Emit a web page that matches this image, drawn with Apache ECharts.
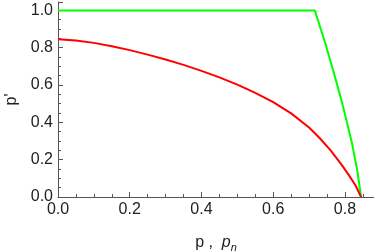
<!DOCTYPE html>
<html><head><meta charset="utf-8">
<script src="https://cdn.jsdelivr.net/npm/echarts@6/dist/echarts.min.js"></script>
<style>html,body{margin:0;padding:0;background:#fff}#c{width:374px;height:252px}</style>
</head><body><div id="c"></div>
<script>
var xTicks = [0.0, 0.2, 0.4, 0.6, 0.8];
var yTicks = [0.0, 0.2, 0.4, 0.6, 0.8, 1.0];
var redP = [0, 0.05, 0.1, 0.15, 0.2, 0.25, 0.3, 0.35, 0.4, 0.45, 0.5, 0.55, 0.6, 0.65, 0.7, 0.73, 0.76, 0.79, 0.81, 0.83, 0.845];
var redV = [0.846, 0.839, 0.826, 0.808, 0.787, 0.763, 0.737, 0.708, 0.676, 0.641, 0.602, 0.558, 0.508, 0.448, 0.372, 0.315, 0.25, 0.175, 0.12, 0.06, 0];
var greenP = [0, 0.716, 0.73, 0.745, 0.76, 0.775, 0.79, 0.805, 0.82, 0.835, 0.845];
var greenV = [1, 1, 0.915, 0.825, 0.725, 0.625, 0.52, 0.405, 0.285, 0.135, 0];

function pairs(a, b) { return a.map(function (v, i) { return [v, b[i]]; }); }

var chart = echarts.init(document.getElementById('c'));
var axisCol = '#555';
var lbl = { color: '#222', fontSize: 16, fontFamily: 'Liberation Sans' };
chart.setOption({
  animation: false,
  grid: { left: 58, right: 0, top: 2, bottom: 55, containLabel: false, outerBoundsMode: 'none' },
  xAxis: {
    type: 'value', min: 0, max: 0.881, interval: 0.2,
    axisLine: { show: true, lineStyle: { color: axisCol, width: 1 } },
    axisTick: { show: true, inside: true, length: 5, lineStyle: { color: axisCol } },
    minorTick: { show: true, splitNumber: 4, length: 3, lineStyle: { color: axisCol } },
    splitLine: { show: false },
    axisLabel: Object.assign({ margin: 5, showMaxLabel: false,
      formatter: function (v) { return v.toFixed(1); } }, lbl),
    name: '{a|p ,  }{b|p}{c|n}', nameLocation: 'middle', nameGap: 36,
    nameTextStyle: { rich: {
      a: { fontSize: 16, fontFamily: 'Liberation Sans', color: '#222' },
      b: { fontSize: 16, fontFamily: 'Liberation Sans', fontStyle: 'italic', color: '#222' },
      c: { fontSize: 11, fontFamily: 'Liberation Sans', fontStyle: 'italic', color: '#222', padding: [9, 0, 0, 0] }
    } }
  },
  yAxis: {
    type: 'value', min: 0, max: 1.045, interval: 0.2,
    axisLine: { show: true, lineStyle: { color: axisCol, width: 1 } },
    axisTick: { show: true, inside: true, length: 5, lineStyle: { color: axisCol } },
    minorTick: { show: true, splitNumber: 4, length: 3, lineStyle: { color: axisCol } },
    splitLine: { show: false },
    axisLabel: Object.assign({ margin: 5, showMaxLabel: false,
      formatter: function (v) { return v.toFixed(1); } }, lbl),
    name: "p'", nameLocation: 'middle', nameGap: 38, nameRotate: 90,
    nameTextStyle: lbl
  },
  series: [
    { type: 'line', data: pairs(greenP, greenV), showSymbol: false,
      lineStyle: { color: '#00ff00', width: 2 }, z: 3 },
    { type: 'line', data: pairs(redP, redV), showSymbol: false,
      lineStyle: { color: '#ff0000', width: 2 }, z: 4 }
  ]
});
</script></body></html>
